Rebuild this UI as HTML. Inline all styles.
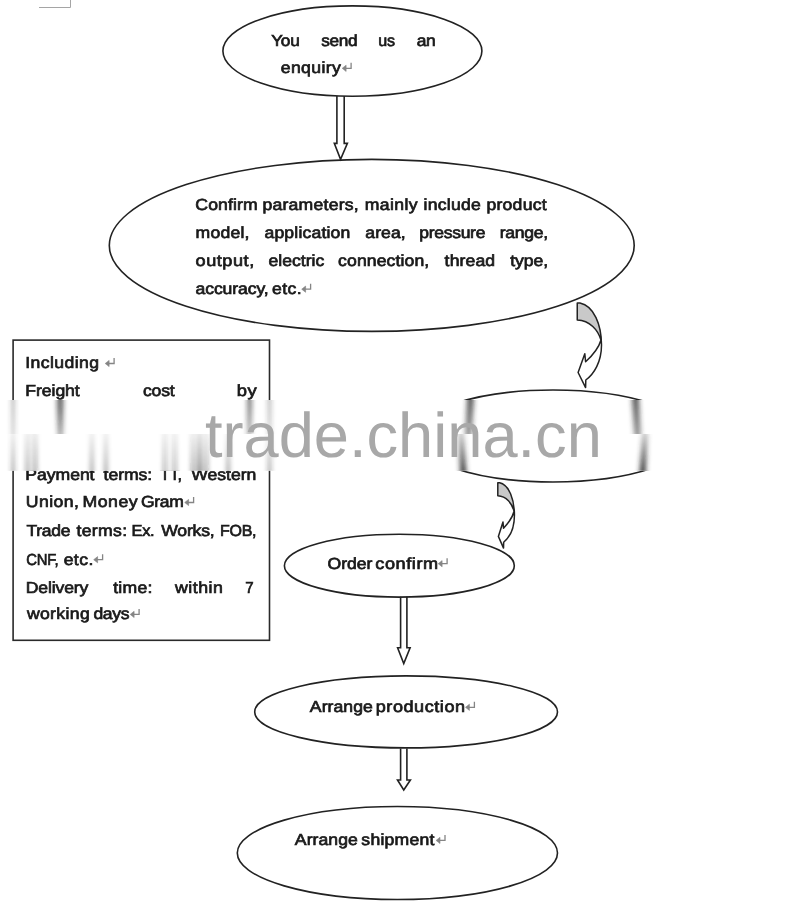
<!DOCTYPE html>
<html><head><meta charset="utf-8"><style>
html,body{margin:0;padding:0;background:#fff;}
body{width:800px;height:910px;overflow:hidden;position:relative;}
svg{position:absolute;left:0;top:0;filter:blur(0.3px);}
text{text-rendering:geometricPrecision;font-family:"Liberation Sans",sans-serif;font-size:16px;font-weight:normal;fill:#1a1a1a;stroke:#1a1a1a;stroke-width:0.7px;}
.el{fill:none;stroke:#222;stroke-width:1.6;}
.sa{fill:#fff;stroke:#222;stroke-width:1.6;stroke-linejoin:miter;}
.ca{fill:none;stroke:#222;stroke-width:1.5;stroke-linejoin:round;}
.cb{fill:#c9c9c9;stroke:none;}
.ret{fill:none;stroke:#858585;stroke-width:1.3;}
.retf{fill:#858585;stroke:#858585;stroke-width:0.6;stroke-linejoin:round;}
#srcB text{stroke:none;}
.wm{stroke:none;font-family:"Liberation Sans",sans-serif;font-size:63.2px;font-weight:normal;fill:#a8a8a8;}
</style></head><body>
<svg width="800" height="910" viewBox="0 0 800 910">
<defs>
<clipPath id="cTop" clipPathUnits="userSpaceOnUse"><rect x="0" y="399.0" width="800" height="0.5"/></clipPath>
<clipPath id="cBot" clipPathUnits="userSpaceOnUse"><rect x="0" y="470.5" width="800" height="0.6"/></clipPath>
<linearGradient id="gTop" gradientUnits="userSpaceOnUse" x1="0" y1="400" x2="0" y2="434">
<stop offset="0" stop-color="#fff" stop-opacity="0.75"/><stop offset="1" stop-color="#fff" stop-opacity="0.5"/></linearGradient>
<linearGradient id="gBot" gradientUnits="userSpaceOnUse" x1="0" y1="434" x2="0" y2="470.8">
<stop offset="0" stop-color="#fff" stop-opacity="0.25"/><stop offset="1" stop-color="#fff" stop-opacity="0.9"/></linearGradient>
<mask id="mTop" maskUnits="userSpaceOnUse" x="0" y="400" width="800" height="34"><rect x="0" y="400" width="800" height="34" fill="url(#gTop)"/></mask>
<mask id="mBot" maskUnits="userSpaceOnUse" x="0" y="434" width="800" height="37"><rect x="0" y="434" width="800" height="37" fill="url(#gBot)"/></mask>
<filter id="hb" x="-0.1" y="-0.1" width="1.2" height="1.2"><feGaussianBlur stdDeviation="2.5 0"/></filter>
</defs>
<g id="content">

<path d="M39,7.5 H70.5 V0" fill="none" stroke="#a5a5a5" stroke-width="1"/>
<path class="sa" d="M336.9,96 V143.4 H334.3 L340.54999999999995,159.3 L347.4,143.4 H344.2 V96"/>
<path class="sa" d="M400.6,596.7 V647.8 H397.6 L403.75,663.6 L410.1,647.8 H406.9 V596.7"/>
<path class="sa" d="M400.6,748.5 V780 H397.5 L403.75,790 L410.4,780 H406.9 V748.5"/>
<ellipse class="el" cx="352.4" cy="51.1" rx="129.5" ry="45.2"/>
<ellipse class="el" cx="371.75" cy="245.4" rx="262.45" ry="86"/>
<ellipse class="el" cx="553" cy="436" rx="139" ry="46"/>
<ellipse class="el" cx="399.35" cy="565.65" rx="114.95" ry="31.45"/>
<ellipse class="el" cx="406.1" cy="711.9" rx="151.4" ry="36"/>
<ellipse class="el" cx="397.4" cy="853" rx="160.1" ry="46.5"/>
<rect x="13.1" y="340.1" width="256.4" height="300.2" fill="none" stroke="#2a2a2a" stroke-width="1.6"/>
<path class="cb" d="M577.25,303.10 L580.00,303.10 C594.00,306.00 601.50,325.00 601.30,340.00 C598.00,330.00 590.00,320.50 577.25,320.00 Z"/><path class="ca" d="M577.25,303.10 L580.00,303.10 C594.00,306.00 601.50,325.00 601.50,345.00 C601.50,362.00 594.00,374.00 585.80,380.00 L585.60,387.60 L578.10,372.50 L584.80,353.80 L585.60,361.80 C593.00,355.00 599.00,347.00 601.00,340.00 C598.00,330.00 590.00,320.50 577.25,320.00 Z"/>
<path class="cb" d="M497.80,482.80 L499.69,482.80 C509.29,485.04 514.43,499.72 514.29,511.31 C512.03,503.58 506.54,496.24 497.80,495.86 Z"/><path class="ca" d="M497.80,482.80 L499.69,482.80 C509.29,485.04 514.43,499.72 514.43,515.17 C514.43,528.30 509.29,537.57 503.66,542.21 L503.53,548.08 L498.38,536.41 L502.98,521.97 L503.53,528.15 C508.60,522.89 512.71,516.71 514.09,511.31 C512.03,503.58 506.54,496.24 497.80,495.86 Z"/>
<text transform="scale(1.0775,1)" x="251.73" y="45.8" letter-spacing="-0.250">You</text>
<text transform="scale(1.0758,1)" x="298.51" y="45.8" letter-spacing="-0.250">send</text>
<text transform="scale(1.0052,1)" x="376.35" y="45.8" letter-spacing="-0.250">us</text>
<text transform="scale(1.0882,1)" x="382.87" y="45.8" letter-spacing="-0.250">an</text>
<text transform="scale(1.1000,1)" x="255.21" y="73.2" letter-spacing="0.365">enquiry</text>
<path class="ret" d="M351.1,62.8 V68.3 H344.0"/><path class="retf" d="M346.1,65.2 L342.2,68.3 L346.1,71.4 Z"/>
<text transform="scale(1.1000,1)" x="177.62" y="210.4" letter-spacing="0.112">Confirm</text>
<text transform="scale(1.1000,1)" x="238.57" y="210.4" letter-spacing="0.215">parameters,</text>
<text transform="scale(1.1000,1)" x="331.57" y="210.4" letter-spacing="0.381">mainly</text>
<text transform="scale(1.1000,1)" x="385.12" y="210.4" letter-spacing="0.208">include</text>
<text transform="scale(1.1000,1)" x="442.21" y="210.4" letter-spacing="0.228">product</text>
<text transform="scale(1.1000,1)" x="177.84" y="238.2" letter-spacing="0.172">model,</text>
<text transform="scale(1.1000,1)" x="240.39" y="238.2" letter-spacing="0.160">application</text>
<text transform="scale(1.1000,1)" x="332.16" y="238.2" letter-spacing="0.038">area,</text>
<text transform="scale(1.0937,1)" x="383.31" y="238.2" letter-spacing="-0.250">pressure</text>
<text transform="scale(1.0985,1)" x="454.92" y="238.2" letter-spacing="-0.250">range,</text>
<text transform="scale(1.1304,1)" x="172.96" y="266.4" letter-spacing="0.500">output,</text>
<text transform="scale(1.1000,1)" x="244.12" y="266.4" letter-spacing="-0.004">electric</text>
<text transform="scale(1.1000,1)" x="307.39" y="266.4" letter-spacing="0.094">connection,</text>
<text transform="scale(1.1000,1)" x="404.21" y="266.4" letter-spacing="0.110">thread</text>
<text transform="scale(1.1000,1)" x="463.76" y="266.4" letter-spacing="-0.051">type,</text>
<text transform="scale(1.1000,1)" x="177.76" y="294.1" letter-spacing="-0.100">accuracy,</text>
<text transform="scale(1.1000,1)" x="247.39" y="294.1" letter-spacing="0.373">etc.</text>
<path class="ret" d="M310.6,283.7 V289.2 H303.5"/><path class="retf" d="M305.6,286.1 L301.7,289.2 L305.6,292.3 Z"/>
<text transform="scale(1.1000,1)" x="22.89" y="368.4" letter-spacing="0.380">Including</text>
<path class="ret" d="M114.1,358.0 V363.5 H107.0"/><path class="retf" d="M109.1,360.4 L105.2,363.5 L109.1,366.6 Z"/>
<text transform="scale(1.1000,1)" x="23.02" y="396.3" letter-spacing="-0.056">Freight</text>
<text transform="scale(1.1000,1)" x="130.03" y="396.3" letter-spacing="-0.212">cost</text>
<text transform="scale(1.1459,1)" x="206.65" y="396.3" letter-spacing="0.500">by</text>
<text transform="scale(1.1000,1)" x="23.02" y="479.8" letter-spacing="-0.039">Payment</text>
<text transform="scale(1.1000,1)" x="94.21" y="479.8" letter-spacing="-0.052">terms:</text>
<text transform="scale(1.0177,1)" x="157.20" y="479.8" letter-spacing="-0.250">TT,</text>
<text transform="scale(1.1000,1)" x="173.89" y="479.8" letter-spacing="-0.035">Western</text>
<text transform="scale(1.1000,1)" x="23.48" y="507.4" letter-spacing="0.410">Union,</text>
<text transform="scale(1.1058,1)" x="74.53" y="507.4" letter-spacing="0.500">Money</text>
<text transform="scale(1.0926,1)" x="129.04" y="507.4" letter-spacing="-0.250">Gram</text>
<path class="ret" d="M193.6,497.0 V502.5 H186.5"/><path class="retf" d="M188.6,499.4 L184.7,502.5 L188.6,505.6 Z"/>
<text transform="scale(1.0945,1)" x="24.11" y="535.7" letter-spacing="-0.250">Trade</text>
<text transform="scale(1.1000,1)" x="69.49" y="535.7" letter-spacing="0.311">terms:</text>
<text transform="scale(1.0245,1)" x="128.35" y="535.7" letter-spacing="-0.250">Ex.</text>
<text transform="scale(1.1000,1)" x="146.62" y="535.7" letter-spacing="-0.185">Works,</text>
<text transform="scale(0.9968,1)" x="220.73" y="535.7" letter-spacing="-0.250">FOB,</text>
<text transform="scale(0.9256,1)" x="28.48" y="564.6" letter-spacing="-0.250">CNF,</text>
<text transform="scale(1.1000,1)" x="57.85" y="564.6" letter-spacing="0.404">etc.</text>
<path class="ret" d="M102.6,554.2 V559.7 H95.5"/><path class="retf" d="M97.6,556.6 L93.7,559.7 L97.6,562.8 Z"/>
<text transform="scale(1.1000,1)" x="23.30" y="593.0" letter-spacing="-0.107">Delivery</text>
<text transform="scale(1.1000,1)" x="102.85" y="593.0" letter-spacing="0.267">time:</text>
<text transform="scale(1.1077,1)" x="157.89" y="593.0" letter-spacing="0.500">within</text>
<text transform="scale(0.9412,1)" x="260.58" y="593.0" letter-spacing="0.000">7</text>
<text transform="scale(1.1000,1)" x="24.44" y="619.3" letter-spacing="0.325">working</text>
<text transform="scale(1.0954,1)" x="85.25" y="619.3" letter-spacing="-0.250">days</text>
<path class="ret" d="M139.1,608.9 V614.4 H132.0"/><path class="retf" d="M134.1,611.3 L130.2,614.4 L134.1,617.5 Z"/>
<text transform="scale(1.1000,1)" x="297.71" y="568.6" letter-spacing="-0.016">Order</text>
<text transform="scale(1.1315,1)" x="331.71" y="568.6" letter-spacing="0.500">confirm</text>
<path class="ret" d="M447.1,558.2 V563.7 H440.0"/><path class="retf" d="M442.1,560.6 L438.2,563.7 L442.1,566.8 Z"/>
<text transform="scale(1.1000,1)" x="281.67" y="712.2" letter-spacing="0.065">Arrange</text>
<text transform="scale(1.1280,1)" x="333.09" y="712.2" letter-spacing="0.500">production</text>
<path class="ret" d="M474.4,701.8 V707.3 H467.3"/><path class="retf" d="M469.4,704.2 L465.5,707.3 L469.4,710.4 Z"/>
<text transform="scale(1.1000,1)" x="268.03" y="845.3" letter-spacing="0.065">Arrange</text>
<text transform="scale(1.1000,1)" x="328.53" y="845.3" letter-spacing="0.198">shipment</text>
<path class="ret" d="M445.0,834.9 V840.4 H437.9"/><path class="retf" d="M440.0,837.3 L436.1,840.4 L440.0,843.5 Z"/>
</g>
<defs><g id="srcB">
<ellipse class="el" cx="553" cy="436" rx="139" ry="46"/>
<rect x="13.1" y="340.1" width="256.4" height="300.2" fill="none" stroke="#2a2a2a" stroke-width="1.6"/>
<text transform="scale(1.1000,1)" x="23.02" y="479.8" letter-spacing="-0.039">Payment</text>
<text transform="scale(1.1000,1)" x="94.21" y="479.8" letter-spacing="-0.052">terms:</text>
<text transform="scale(1.0177,1)" x="157.20" y="479.8" letter-spacing="-0.250">TT,</text>
<text transform="scale(1.1000,1)" x="173.89" y="479.8" letter-spacing="-0.035">Western</text>
</g></defs>
<rect x="0" y="400" width="800" height="70.85000000000002" fill="#fff"/>
<g mask="url(#mTop)"><g filter="url(#hb)"><g transform="matrix(1 0 0 68.0000 0 -26732.000)"><g clip-path="url(#cTop)"><use href="#content"/></g></g></g></g>
<g mask="url(#mBot)"><g filter="url(#hb)"><g transform="matrix(1 0 0 61.4167 0 -28462.542)"><g clip-path="url(#cBot)"><use href="#srcB"/></g></g></g></g>
<text class="wm" x="204.9" y="457.4">trade.china.cn</text>
</svg>
</body></html>
